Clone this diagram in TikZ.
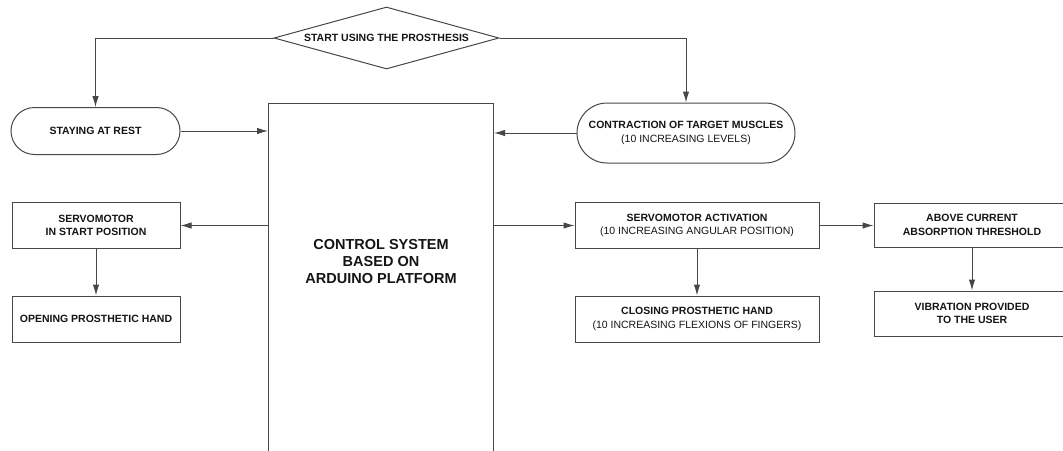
\documentclass[tikz,border=0pt]{standalone}
\usepackage{fontspec}
\setmainfont{Liberation Sans}
\usetikzlibrary{shapes.geometric,shapes.misc,arrows.meta}
\definecolor{linegray}{HTML}{474747}
\definecolor{txt}{HTML}{151515}
\tikzset{
  box/.style={draw=linegray, line width=1pt, rectangle, inner sep=0pt, align=center, text=txt, font=\fontsize{10.5}{13.5}\selectfont},
  stadium/.style={draw=linegray, line width=1pt, rounded rectangle, inner sep=0pt, align=center, text=txt, font=\fontsize{10.5}{13.5}\selectfont},
  arr/.style={draw=linegray, line width=1pt, -{Latex[length=11pt,width=6.5pt]}},
}
\begin{document}
\begin{tikzpicture}[x=1pt,y=-1pt]
\useasboundingbox (0,0) rectangle (1063,450);
\clip (0,0) rectangle (1063,450);
\fill[white] (0,0) rectangle (1063,450);

\node[draw=linegray, line width=1pt, diamond, aspect=3.6, minimum width=225pt, minimum height=62pt, inner sep=0pt, text=txt, font=\fontsize{10.5}{13.5}\selectfont\bfseries] (dia) at (386.5,38) {START USING THE PROSTHESIS};

\node[stadium, minimum width=169pt, minimum height=47pt, font=\fontsize{10.5}{13.5}\selectfont\bfseries] (rest) at (95.5,131) {STAYING AT REST};

\node[stadium, minimum width=218pt, minimum height=60pt] (contr) at (686,133) {\textbf{CONTRACTION OF TARGET MUSCLES}\\(10 INCREASING LEVELS)};

\node[box, minimum width=225pt, minimum height=397pt] (ctrl) at (381,301.5) {};
\node[text=txt, align=center, font=\fontsize{14.5}{17}\selectfont\bfseries] (ctrltxt) at (381,262) {CONTROL SYSTEM\\BASED ON\\ARDUINO PLATFORM};

\node[box, minimum width=168pt, minimum height=46pt, font=\fontsize{10.5}{13.5}\selectfont\bfseries] (sstart) at (96,225.5) {SERVOMOTOR\\IN START POSITION};
\node[box, minimum width=168pt, minimum height=46pt, font=\fontsize{10.5}{13.5}\selectfont\bfseries] (open) at (96,319) {OPENING PROSTHETIC HAND};

\node[box, minimum width=244pt, minimum height=46pt] (act) at (697,225.5) {\textbf{SERVOMOTOR ACTIVATION}\\(10 INCREASING ANGULAR POSITION)};
\node[box, minimum width=244pt, minimum height=46pt] (close) at (697,319) {\textbf{CLOSING PROSTHETIC HAND}\\(10 INCREASING FLEXIONS OF FINGERS)};

\node[box, minimum width=196pt, minimum height=44pt, font=\fontsize{10.5}{13.5}\selectfont\bfseries] (above) at (972,225) {ABOVE CURRENT\\ABSORPTION THRESHOLD};
\node[box, minimum width=196pt, minimum height=45pt, font=\fontsize{10.5}{13.5}\selectfont\bfseries] (vib) at (972,313.5) {VIBRATION PROVIDED\\TO THE USER};

\draw[arr] (dia.west) -| (rest.north);
\draw[arr] (dia.east) -| (contr.north);
\draw[arr] (rest.east) -- (rest.east -| ctrl.west);
\draw[arr] (contr.west) -- (contr.west -| ctrl.east);
\draw[arr] (sstart.east -| ctrl.west) -- (sstart.east);
\draw[arr] (sstart.south) -- (open.north);
\draw[arr] (act.west -| ctrl.east) -- (act.west);
\draw[arr] (act.south) -- (close.north);
\draw[arr] (act.east) -- (act.east -| above.west);
\draw[arr] (above.south) -- (vib.north);
\end{tikzpicture}
\end{document}
